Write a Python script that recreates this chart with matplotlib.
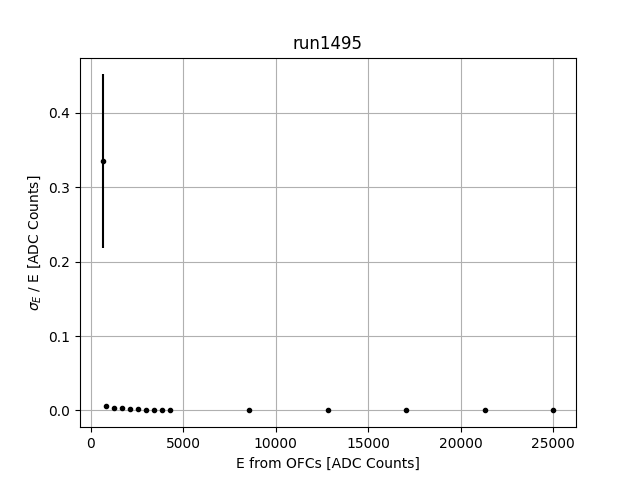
import matplotlib
matplotlib.use("Agg")
import matplotlib.pyplot as plt

energy = [650, 828, 1262, 1695, 2128, 2561, 2994, 3427, 3860, 4294, 8571, 12832, 17055, 21332, 25014]
resolution = [0.3354, 0.0055, 0.0030, 0.0027, 0.0018, 0.0015, 0.0013, 0.0012, 0.0011, 0.0005, 0.0004, 0.0003, 0.0003, 0.0002, 0.0002]
res_err = [0.1165, 0.0008, 0.0004, 0.0003, 0.0002, 0.0002, 0.0002, 0.0001, 0.0001, 0.0001, 0.0001, 0.0001, 0.0001, 0.0001, 0.0001]

fig, ax = plt.subplots(figsize=(6.4, 4.8), dpi=100)
ax.errorbar(energy, resolution, yerr=res_err, fmt='.', color='black')
ax.grid(True)
ax.set_title("run1495")
ax.set_xlabel("E from OFCs [ADC Counts]")
ax.set_ylabel(r"$\sigma_E$ / E [ADC Counts]")
fig.savefig("out.png")
